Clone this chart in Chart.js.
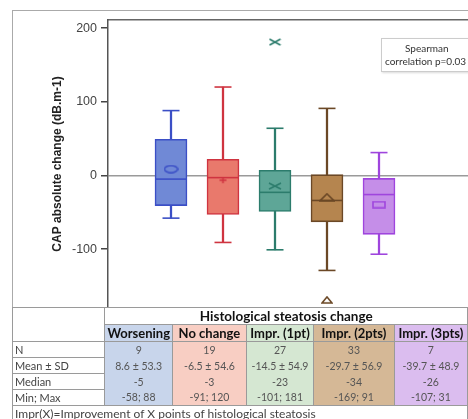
<!DOCTYPE html>
<html>
<head>
<meta charset="utf-8">
<script src="https://cdn.jsdelivr.net/npm/chart.js@4"></script>
<style>
  html, body { margin: 0; padding: 0; background: #fff; }
  body { width: 468px; height: 419px; overflow: hidden; position: relative; }
  #title { position: absolute; left: 18px; top: -21px; font: bold 24px Lato, sans-serif; color: #92d050; white-space: nowrap; line-height: 24px; }
  #frame { position: absolute; left: 12px; top: 10px; width: 500px; height: 420px; border-left: 1px solid #aaa; border-top: 1px solid #aaa; }
  #wrap { position: absolute; left: 0; top: 0; width: 540px; height: 308px; }
  #note { position: absolute; left: 381px; top: 38px; width: 120px; height: 32px; border: 1px solid #ccc; background: #fff;
          box-shadow: 1px 1px 2px rgba(0,0,0,0.15); font: 10px Lato, sans-serif; color: #333; }
  #note div { position: absolute; white-space: nowrap; }
  table { position: absolute; left: 12px; top: 307px; border-collapse: collapse; table-layout: fixed; font-family: Lato, sans-serif; }
  td { border: 1px solid #9a9a9a; padding: 0; overflow: hidden; white-space: nowrap; }
  td.lab { text-align: left; padding-left: 2px; font-size: 11px; color: #444; }
  td.val { text-align: center; font-size: 10.5px; color: #555; }
  td.head { text-align: center; font-weight: bold; font-size: 13px; color: #111; }
  td.group { text-align: center; font-weight: bold; font-size: 13.5px; color: #111; }
  td.foot { text-align: left; padding-left: 2px; font-size: 12px; color: #444; border-bottom: none; }
</style>
</head>
<body>
<div id="title">Correlation between CAP and steatosis change</div>
<div id="frame"></div>
<div id="wrap"><canvas id="chart" width="540" height="308"></canvas></div>
<div id="note"><div style="left:23px;top:3px">Spearman</div><div style="left:3px;top:16px">correlation p=0.03</div></div>
<table id="tbl"></table>
<script>
// groups and box plot values (dB.m-1)
const categories = ['Worsening', 'No change', 'Impr. (1pt)', 'Impr. (2pts)', 'Impr. (3pts)'];
const q1Vals = [-41, -53, -49, -63, -80];
const q3Vals = [49, 22, 7, 1, -4];
const medianVals = [-5, -3, -23, -34, -26];
const meanVals = [8.6, -6.5, -14.5, -29.7, -39.7];
const whiskerLow = [-58, -91, -101, -129, -107];
const whiskerHigh = [88, 120, 64, 91, 31];
// table values
const nCounts = [9, 19, 27, 33, 7];
const sdVals = [53.3, 54.6, 54.9, 56.9, 48.9];
const minVals = [-58, -91, -101, -169, -107];
const maxVals = [88, 120, 181, 91, 31];
const yTicks = [-100, 0, 100, 200];

const fills = ['#7089d6', '#e9796c', '#5ea697', '#b5854f', '#c58ee8'];
const lines = ['#3b4fc6', '#cf3440', '#2c7c6c', '#6b4826', '#9f45dd'];
const cellBg = ['#c8d5eb', '#f8cec3', '#d5e7d2', '#d5b896', '#dbbdef'];

const xs = categories.map((c, i) => i + 1);

// small outline markers for the means and outliers
function marker(kind, color, w, h) {
  const c = document.createElement('canvas');
  c.width = w; c.height = h;
  const g = c.getContext('2d');
  g.strokeStyle = color; g.lineWidth = 1.6;
  g.beginPath();
  if (kind === 'ellipse') g.ellipse(w / 2, h / 2, w / 2 - 1, h / 2 - 1, 0, 0, Math.PI * 2);
  if (kind === 'plus') { g.moveTo(1, h / 2); g.lineTo(w - 1, h / 2); g.moveTo(w / 2, 1); g.lineTo(w / 2, h - 1); }
  if (kind === 'x') { g.moveTo(1, 1); g.lineTo(w - 1, h - 1); g.moveTo(w - 1, 1); g.lineTo(1, h - 1); }
  if (kind === 'tri') { g.moveTo(w / 2, 1); g.lineTo(w - 1, h - 1); g.lineTo(1, h - 1); g.closePath(); }
  if (kind === 'rect') g.rect(1, 1, w - 2, h - 2);
  g.stroke();
  return c;
}
const meanStyles = [
  marker('ellipse', lines[0], 15, 9),
  marker('plus', lines[1], 9, 8),
  marker('x', lines[2], 14, 8),
  marker('tri', lines[3], 16, 9),
  marker('rect', lines[4], 14, 8)
];
const outStyles = [null, null, marker('x', lines[2], 13, 8), marker('tri', lines[3], 12, 8), null];

const outlierPts = [];
const outlierMarks = [];
categories.forEach((c, i) => {
  if (maxVals[i] > whiskerHigh[i]) { outlierPts.push({ x: xs[i], y: maxVals[i] }); outlierMarks.push(outStyles[i]); }
  if (minVals[i] < whiskerLow[i]) { outlierPts.push({ x: xs[i], y: minVals[i] }); outlierMarks.push(outStyles[i]); }
});

const capPts = [];
const capColors = [];
categories.forEach((c, i) => {
  capPts.push({ x: xs[i], y: whiskerHigh[i] }, { x: xs[i], y: whiskerLow[i] });
  capColors.push(lines[i], lines[i]);
});

new Chart(document.getElementById('chart'), {
  type: 'bar',
  data: {
    datasets: [
      {
        label: 'whiskers', order: 4, grouped: false,
        data: xs.map((x, i) => ({ x: x, y: [whiskerLow[i], whiskerHigh[i]] })),
        backgroundColor: lines, barThickness: 1.6, borderWidth: 0
      },
      {
        label: 'boxes', order: 3, grouped: false,
        data: xs.map((x, i) => ({ x: x, y: [q1Vals[i], q3Vals[i]] })),
        backgroundColor: fills, borderColor: lines, borderWidth: 1.6, borderSkipped: false, barThickness: 32
      },
      {
        type: 'line', label: 'caps', order: 2, showLine: false,
        data: capPts, pointStyle: 'line', pointRadius: 8.5, pointBorderWidth: 1.6, pointBorderColor: capColors
      },
      {
        type: 'line', label: 'median', order: 2, showLine: false,
        data: xs.map((x, i) => ({ x: x, y: medianVals[i] })),
        pointStyle: 'line', pointRadius: 16, pointBorderWidth: 1.6, pointBorderColor: lines
      },
      {
        type: 'line', label: 'mean', order: 1, showLine: false,
        data: xs.map((x, i) => ({ x: x, y: meanVals[i] })),
        pointStyle: meanStyles
      },
      {
        type: 'line', label: 'outliers', order: 1, showLine: false,
        data: outlierPts, pointStyle: outlierMarks
      }
    ]
  },
  options: {
    responsive: false,
    animation: false,
    layout: { autoPadding: false, padding: { top: 20, left: 0, right: 0, bottom: 0 } },
    plugins: { legend: { display: false }, tooltip: { enabled: false } },
    scales: {
      x: {
        type: 'linear', position: 'top', offset: false, min: 1 - 63 / 52, max: 1 + (540 - 171) / 52,
        ticks: { display: false },
        grid: { display: false, drawTicks: false },
        border: { display: true, color: '#666', width: 1.5 }
      },
      y: {
        min: -180, max: 211,
        afterBuildTicks: s => { s.ticks = yTicks.map(v => ({ value: v })); },
        afterFit: s => { s.width = 108; s.paddingTop = 0; s.paddingBottom = 0; },
        ticks: { color: '#444', padding: 4, font: { family: 'Liberation Sans', size: 12.5 } },
        grid: {
          color: ctx => (ctx.tick && ctx.tick.value === 0 ? '#9a9a9a' : 'rgba(0,0,0,0)'),
          lineWidth: 1.5, tickColor: '#444', tickLength: 7
        },
        border: { color: '#555', width: 1.5 },
        title: {
          display: true, text: 'CAP absolute change (dB.m-1)', color: '#222',
          font: { family: 'Liberation Sans', size: 12, weight: 'bold' }, padding: { top: 50 }
        }
      }
    }
  }
});

// stats table under the plot
const colW = [96, 68, 75, 68, 82, 74];
const fmt = v => String(v);
let html = '<colgroup>' + colW.map(w => `<col style="width:${w}px">`).join('') + '</colgroup>';
html += `<tr style="height:17px"><td rowspan="2"></td><td class="group" colspan="5">Histological steatosis change</td></tr>`;
html += '<tr style="height:17px">' + categories.map((c, i) => `<td class="head" style="background:${cellBg[i]}">${c}</td>`).join('') + '</tr>';
const rows = [
  ['N', nCounts.map(fmt)],
  ['Mean ± SD', meanVals.map((m, i) => `${m} ± ${sdVals[i]}`)],
  ['Median', medianVals.map(fmt)],
  ['Min; Max', minVals.map((m, i) => `${m}; ${maxVals[i]}`)]
];
rows.forEach(r => {
  html += '<tr style="height:16px"><td class="lab">' + r[0] + '</td>' +
    r[1].map((v, i) => `<td class="val" style="background:${cellBg[i]};border-top:none;border-bottom:none">${v}</td>`).join('') + '</tr>';
});
html += '<tr style="height:14px"><td class="foot" colspan="6">Impr(X)=Improvement of X points of histological steatosis</td></tr>';
document.getElementById('tbl').innerHTML = html;
</script>
</body>
</html>
